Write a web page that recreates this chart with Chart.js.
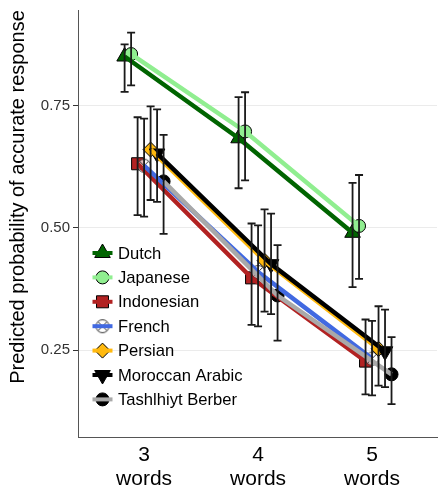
<!DOCTYPE html>
<html>
<head>
<meta charset="utf-8">
<script src="https://cdn.jsdelivr.net/npm/chart.js@4.4.1/dist/chart.umd.min.js"></script>
<style>
  html, body { margin: 0; padding: 0; background: #fff; }
  #wrap { width: 447px; height: 490px; position: relative; }
</style>
</head>
<body>
<div id="wrap"><canvas id="myChart"></canvas></div>
<script>
// x categories (word count) and their labels
const wordCounts = [3, 4, 5];
const tickLabels = ['3', '4', '5'];
const yTicks = [0.25, 0.50, 0.75];

const languages = ['Dutch', 'Japanese', 'Indonesian', 'French', 'Persian', 'Moroccan Arabic', 'Tashlhiyt Berber'];

// predicted probability and 95% interval per language (3, 4, 5 words)
const dutch      = [0.850, 0.683, 0.490];
const dutchLo    = [0.778, 0.581, 0.379];
const dutchHi    = [0.875, 0.767, 0.592];
const japanese   = [0.855, 0.697, 0.504];
const japaneseLo = [0.791, 0.597, 0.396];
const japaneseHi = [0.899, 0.777, 0.608];
const indonesian   = [0.631, 0.398, 0.228];
const indonesianLo = [0.526, 0.302, 0.160];
const indonesianHi = [0.726, 0.509, 0.313];
const french   = [0.627, 0.410, 0.233];
const frenchLo = [0.523, 0.299, 0.158];
const frenchHi = [0.723, 0.505, 0.310];
const persian   = [0.660, 0.433, 0.253];
const persianLo = [0.557, 0.329, 0.178];
const persianHi = [0.748, 0.538, 0.340];
const moroccan   = [0.652, 0.426, 0.248];
const moroccanLo = [0.553, 0.324, 0.175];
const moroccanHi = [0.742, 0.529, 0.333];
const tashlhiyt   = [0.595, 0.362, 0.201];
const tashlhiytLo = [0.488, 0.270, 0.140];
const tashlhiytHi = [0.690, 0.465, 0.277];

const values = [dutch, japanese, indonesian, french, persian, moroccan, tashlhiyt];
const lows   = [dutchLo, japaneseLo, indonesianLo, frenchLo, persianLo, moroccanLo, tashlhiytLo];
const highs  = [dutchHi, japaneseHi, indonesianHi, frenchHi, persianHi, moroccanHi, tashlhiytHi];

const FONT = '"Liberation Sans", Arial, sans-serif';
const dodge = 0.057;

// French marker: circle with an X
function crossCircle() {
    const c = document.createElement('canvas');
    c.width = 16; c.height = 16;
    const g = c.getContext('2d');
    g.fillStyle = 'rgba(255,255,255,0.7)';
    g.strokeStyle = '#333';
    g.lineWidth = 1;
    g.beginPath(); g.arc(8, 8, 6.5, 0, Math.PI * 2); g.fill(); g.stroke();
    g.beginPath();
    g.moveTo(3.4, 3.4); g.lineTo(12.6, 12.6);
    g.moveTo(12.6, 3.4); g.lineTo(3.4, 12.6);
    g.stroke();
    return c;
}

const styles = [
    { line: '#006400', fill: '#006400', shape: 'triangle', r: 9, rot: 0 },
    { line: '#90EE90', fill: '#90EE90', shape: 'circle', r: 6.5, rot: 0 },
    { line: '#B22222', fill: '#B22222', shape: 'rect', r: 8.5, rot: 0 },
    { line: '#4169E1', fill: 'rgba(0,0,0,0)', shape: crossCircle(), r: 7, rot: 0 },
    { line: '#FFB90F', fill: '#FFB90F', shape: 'rectRot', r: 7.5, rot: 0 },
    { line: '#000000', fill: '#000000', shape: 'triangle', r: 9, rot: 180 },
    { line: '#A9A9A9', fill: '#000000', shape: 'circle', r: 6.5, rot: 0 }
];

function pointsFor(i) {
    return wordCounts.map((w, j) => ({ x: w + (i - 3) * dodge, y: values[i][j] }));
}

const datasets = [];
languages.forEach((lang, i) => {
    // line
    datasets.push({
        label: lang,
        data: pointsFor(i),
        showLine: true,
        borderColor: styles[i].line,
        borderWidth: 4.5,
        pointRadius: 0,
        order: 50 - i
    });
    // markers
    datasets.push({
        label: lang + ' points',
        data: pointsFor(i),
        showLine: false,
        pointStyle: styles[i].shape,
        pointRadius: styles[i].r,
        rotation: styles[i].rot,
        backgroundColor: styles[i].fill,
        borderColor: '#000',
        borderWidth: 1,
        order: 100 - i
    });
});

// error bars on top of everything
const errorBars = {
    id: 'errorBars',
    afterDatasetsDraw(chart) {
        const ctx = chart.ctx, xs = chart.scales.x, ys = chart.scales.y;
        ctx.save();
        ctx.strokeStyle = '#1a1a1a';
        ctx.lineWidth = 1.8;
        languages.forEach((lang, i) => {
            wordCounts.forEach((w, j) => {
                const px = xs.getPixelForValue(w + (i - 3) * dodge);
                const top = ys.getPixelForValue(highs[i][j]);
                const bot = ys.getPixelForValue(lows[i][j]);
                ctx.beginPath();
                ctx.moveTo(px, top); ctx.lineTo(px, bot);
                ctx.moveTo(px - 4, top); ctx.lineTo(px + 4, top);
                ctx.moveTo(px - 4, bot); ctx.lineTo(px + 4, bot);
                ctx.stroke();
            });
        });
        ctx.restore();
    }
};

// legend inside the plot plus the y axis title
const insideLegend = {
    id: 'insideLegend',
    afterDraw(chart) {
        const ctx = chart.ctx;
        const draw = Chart.helpers.drawPoint;
        ctx.save();
        languages.forEach((lang, i) => {
            const cy = 253 + i * 24.4;
            const cx = 102.5;
            const s = styles[i];
            ctx.fillStyle = s.fill;
            ctx.strokeStyle = '#000';
            ctx.lineWidth = 1;
            draw(ctx, { pointStyle: s.shape, radius: s.r, rotation: s.rot, borderWidth: 1 }, cx, cy);
            ctx.strokeStyle = s.line;
            ctx.lineWidth = 4;
            ctx.beginPath();
            ctx.moveTo(cx - 10, cy); ctx.lineTo(cx + 10, cy);
            ctx.stroke();
            ctx.fillStyle = '#000';
            ctx.font = '16.6px ' + FONT;
            ctx.textBaseline = 'middle';
            ctx.textAlign = 'left';
            ctx.fillText(lang, 118, cy + 1);
        });
        ctx.translate(18, 197);
        ctx.rotate(-Math.PI / 2);
        ctx.font = '20px ' + FONT;
        ctx.textAlign = 'center';
        ctx.textBaseline = 'middle';
        ctx.fillStyle = '#000';
        ctx.fillText('Predicted probability of accurate response', 0, 0);
        ctx.restore();
    }
};

const ctx = document.getElementById('myChart').getContext('2d');
const myChart = new Chart(ctx, {
    type: 'scatter',
    data: { datasets: datasets },
    options: {
        responsive: true,
        maintainAspectRatio: false,
        animation: false,
        layout: { padding: { top: 8, left: 0, right: 0, bottom: 0 } },
        plugins: {
            legend: { display: false },
            tooltip: { enabled: false }
        },
        scales: {
            x: {
                type: 'linear',
                min: 2.42,
                max: 5.57,
                afterBuildTicks: scale => { scale.ticks = wordCounts.map(v => ({ value: v })); },
                afterFit: scale => { scale.height = 53; scale.paddingLeft = 0; scale.paddingRight = 0; },
                grid: { display: false },
                border: { display: true, color: '#555', width: 1 },
                ticks: {
                    padding: -2,
                    color: '#000',
                    font: { family: FONT, size: 21, lineHeight: 1.15 },
                    callback: v => [tickLabels[wordCounts.indexOf(v)], 'words']
                }
            },
            y: {
                type: 'linear',
                min: 0.073,
                max: 0.945,
                afterBuildTicks: scale => { scale.ticks = yTicks.map(v => ({ value: v })); },
                afterFit: scale => { scale.width = 78; scale.paddingTop = 0; scale.paddingBottom = 0; },
                grid: { color: '#EBEBEB', lineWidth: 1, tickColor: '#333', tickLength: 5 },
                border: { display: true, color: '#555', width: 1 },
                ticks: {
                    padding: 3,
                    color: '#333',
                    font: { family: FONT, size: 15 },
                    callback: v => v.toFixed(2)
                }
            }
        }
    },
    plugins: [errorBars, insideLegend]
});
</script>
</body>
</html>
